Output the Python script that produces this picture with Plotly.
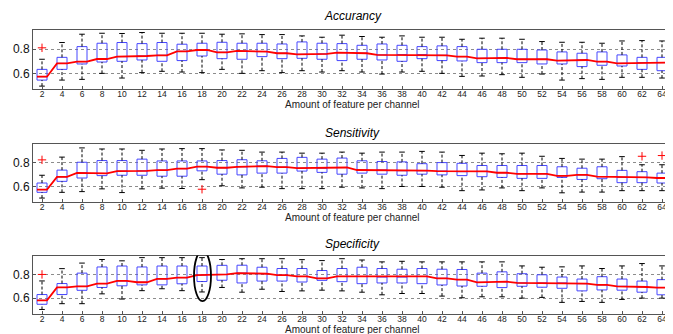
import plotly.graph_objects as go

feat = list(range(2, 65, 2))

# Accurancy
acc_hi = [0.717, 0.856, 0.925, 0.933, 0.931, 0.939, 0.933, 0.933, 0.933, 0.925, 0.928, 0.922, 0.922, 0.911, 0.900, 0.917,
          0.906, 0.900, 0.911, 0.900, 0.900, 0.883, 0.892, 0.892, 0.883, 0.864, 0.858, 0.858, 0.850, 0.869, 0.872, 0.869]
acc_q3 = [0.633, 0.733, 0.822, 0.850, 0.856, 0.847, 0.856, 0.842, 0.850, 0.858, 0.850, 0.850, 0.844, 0.861, 0.850, 0.847,
          0.833, 0.844, 0.833, 0.822, 0.828, 0.822, 0.800, 0.800, 0.800, 0.794, 0.778, 0.767, 0.778, 0.753, 0.733, 0.733]
acc_med = [0.572, 0.683, 0.697, 0.719, 0.739, 0.744, 0.750, 0.783, 0.794, 0.775, 0.786, 0.781, 0.767, 0.758, 0.761, 0.772,
           0.767, 0.753, 0.756, 0.756, 0.750, 0.739, 0.725, 0.728, 0.717, 0.717, 0.706, 0.711, 0.697, 0.683, 0.689, 0.689]
acc_q1 = [0.544, 0.633, 0.678, 0.694, 0.700, 0.711, 0.700, 0.706, 0.744, 0.722, 0.717, 0.739, 0.722, 0.725, 0.717, 0.706,
          0.717, 0.711, 0.700, 0.722, 0.706, 0.703, 0.689, 0.689, 0.689, 0.678, 0.678, 0.656, 0.667, 0.661, 0.633, 0.622]
acc_lo = [0.494, 0.544, 0.550, 0.600, 0.561, 0.606, 0.617, 0.611, 0.606, 0.633, 0.600, 0.622, 0.606, 0.622, 0.611, 0.622,
          0.611, 0.594, 0.611, 0.617, 0.600, 0.575, 0.578, 0.589, 0.567, 0.594, 0.544, 0.556, 0.550, 0.567, 0.567, 0.561]
acc_out_x = [2]
acc_out_y = [0.812]

# Sensitivity
sen_hi = [0.694, 0.846, 0.923, 0.914, 0.914, 0.903, 0.914, 0.917, 0.917, 0.906, 0.903, 0.888, 0.888, 0.879, 0.879, 0.888,
          0.879, 0.888, 0.888, 0.894, 0.888, 0.860, 0.879, 0.874, 0.879, 0.853, 0.835, 0.829, 0.829, 0.850, 0.782, 0.782]
sen_q3 = [0.629, 0.737, 0.803, 0.817, 0.817, 0.829, 0.814, 0.814, 0.814, 0.817, 0.824, 0.815, 0.835, 0.844, 0.829, 0.838,
          0.815, 0.809, 0.806, 0.791, 0.800, 0.794, 0.776, 0.776, 0.776, 0.776, 0.765, 0.753, 0.765, 0.735, 0.724, 0.712]
sen_med = [0.574, 0.680, 0.714, 0.709, 0.729, 0.731, 0.737, 0.749, 0.766, 0.757, 0.765, 0.771, 0.762, 0.753, 0.753, 0.759,
           0.738, 0.738, 0.732, 0.732, 0.729, 0.724, 0.726, 0.715, 0.706, 0.706, 0.688, 0.697, 0.682, 0.676, 0.676, 0.671]
sen_q1 = [0.551, 0.643, 0.671, 0.691, 0.694, 0.694, 0.686, 0.686, 0.731, 0.703, 0.697, 0.712, 0.712, 0.729, 0.718, 0.703,
          0.712, 0.703, 0.694, 0.703, 0.697, 0.691, 0.682, 0.676, 0.668, 0.668, 0.676, 0.659, 0.665, 0.632, 0.632, 0.629]
sen_lo = [0.503, 0.551, 0.557, 0.580, 0.549, 0.580, 0.586, 0.583, 0.657, 0.606, 0.588, 0.594, 0.582, 0.582, 0.582, 0.594,
          0.588, 0.582, 0.600, 0.600, 0.594, 0.565, 0.571, 0.588, 0.565, 0.588, 0.547, 0.553, 0.553, 0.565, 0.565, 0.565]
sen_out_x = [2, 18, 62, 64]
sen_out_y = [0.823, 0.577, 0.853, 0.859]

# Specificity
spe_hi = [0.745, 0.849, 0.896, 0.926, 0.915, 0.942, 0.942, 0.942, 0.942, 0.926, 0.933, 0.933, 0.933, 0.925, 0.917, 0.933,
          0.922, 0.906, 0.911, 0.906, 0.906, 0.906, 0.906, 0.906, 0.872, 0.861, 0.864, 0.872, 0.850, 0.872, 0.892, 0.872]
spe_q3 = [0.630, 0.723, 0.811, 0.863, 0.871, 0.863, 0.871, 0.871, 0.871, 0.877, 0.878, 0.861, 0.850, 0.850, 0.833, 0.850,
          0.861, 0.850, 0.844, 0.850, 0.844, 0.842, 0.811, 0.822, 0.806, 0.797, 0.778, 0.761, 0.781, 0.761, 0.744, 0.756]
spe_med = [0.581, 0.690, 0.699, 0.723, 0.745, 0.734, 0.762, 0.773, 0.795, 0.800, 0.811, 0.806, 0.794, 0.783, 0.767, 0.783,
           0.783, 0.778, 0.778, 0.783, 0.767, 0.756, 0.733, 0.739, 0.728, 0.728, 0.728, 0.722, 0.711, 0.700, 0.694, 0.689]
spe_q1 = [0.548, 0.630, 0.666, 0.690, 0.704, 0.712, 0.712, 0.721, 0.740, 0.751, 0.728, 0.744, 0.744, 0.736, 0.750, 0.739,
          0.722, 0.728, 0.728, 0.722, 0.711, 0.702, 0.700, 0.689, 0.700, 0.692, 0.683, 0.661, 0.669, 0.667, 0.650, 0.628]
spe_lo = [0.504, 0.553, 0.553, 0.636, 0.592, 0.663, 0.679, 0.663, 0.652, 0.690, 0.650, 0.675, 0.656, 0.661, 0.667, 0.661,
          0.650, 0.628, 0.639, 0.639, 0.617, 0.603, 0.611, 0.611, 0.600, 0.606, 0.564, 0.572, 0.564, 0.589, 0.600, 0.600]
spe_out_x = [2]
spe_out_y = [0.800]

titles = ["Accurancy", "Sensitivity", "Specificity"]
xlabel = "Amount of feature per channel"
ytick_vals = [0.6, 0.8]
ytick_text = ["0.6", "0.8"]

panels = [
    (acc_lo, acc_q1, acc_med, acc_q3, acc_hi, acc_out_x, acc_out_y),
    (sen_lo, sen_q1, sen_med, sen_q3, sen_hi, sen_out_x, sen_out_y),
    (spe_lo, spe_q1, spe_med, spe_q3, spe_hi, spe_out_x, spe_out_y),
]

# The page body keeps an 8px default margin, so the figure is drawn 8px in.
OFF = 8
W, H = 673 - OFF, 334 - OFF
PL, PR = 33, 672          # plot left/right in window pixels
ML, MR = PL - OFF, W - (PR - OFF)
# pixel extents (top, bottom) of each panel, in window pixels
pix = [(30.0, 89.0), (143.5, 202.0), (255.5, 313.5)]
title_pix = [16.5, 132.5, 243.5]
xtitle_pix = [104.0, 217.0, 329.5]
center_x = ((PL + PR) / 2 - PL) / (PR - PL)

BOX_HALF = 0.5
blue = "rgb(70,70,255)"

fig = go.Figure()
for i, (lo, q1, med, q3, hi, ox, oy) in enumerate(panels):
    xa = "x" if i == 0 else f"x{i+1}"
    ya = "y" if i == 0 else f"y{i+1}"
    # whiskers
    wx, wy = [], []
    for x, l, a, b, h in zip(feat, lo, q1, q3, hi):
        wx += [x, x, None, x, x, None]
        wy += [l, a, None, b, h, None]
    fig.add_trace(go.Scatter(x=wx, y=wy, mode="lines", xaxis=xa, yaxis=ya,
                             line=dict(color="black", width=1, dash="3px,2px"),
                             hoverinfo="skip", showlegend=False))
    # caps
    fig.add_trace(go.Scatter(x=feat + feat, y=lo + hi, mode="markers", xaxis=xa, yaxis=ya,
                             marker=dict(symbol="line-ew", size=4, line=dict(color="black", width=1)),
                             hoverinfo="skip", showlegend=False))
    # boxes
    fig.add_trace(go.Box(x=feat, q1=q1, median=med, q3=q3, lowerfence=q1, upperfence=q3,
                         width=2 * BOX_HALF, xaxis=xa, yaxis=ya, boxpoints=False,
                         line=dict(color=blue, width=1), fillcolor="rgba(0,0,0,0)",
                         whiskerwidth=0, showlegend=False))
    # red median line
    rx, ry = [], []
    for x, m in zip(feat, med):
        rx += [x - BOX_HALF, x + BOX_HALF]
        ry += [m, m]
    fig.add_trace(go.Scatter(x=rx, y=ry, mode="lines", xaxis=xa, yaxis=ya,
                             line=dict(color="red", width=1.8), hoverinfo="skip", showlegend=False))
    # outliers
    fig.add_trace(go.Scatter(x=ox, y=oy, mode="markers", xaxis=xa, yaxis=ya,
                             marker=dict(symbol="cross-thin", size=6, line=dict(color="red", width=1)),
                             hoverinfo="skip", showlegend=False))

    top, bot = pix[i]
    dom = [1 - (bot - OFF) / H, 1 - (top - OFF) / H]
    axx = dict(domain=[0, 1], range=[1.1, 65], tickmode="array", tickvals=feat,
               ticktext=[str(v) for v in feat], ticks="inside", ticklen=3, tickcolor="#555",
               ticklabelstandoff=-3,
               showgrid=False, zeroline=False, showline=True, linecolor="#555", linewidth=1,
               mirror=True, tickfont=dict(family="Liberation Sans, Arial", size=8.5, color="#222"),
               anchor=ya, automargin=False)
    axy = dict(domain=dom, range=[0.47, 0.96], tickmode="array", tickvals=ytick_vals,
               ticktext=ytick_text, ticks="inside", ticklen=3, tickcolor="#555",
               showgrid=True, gridcolor="rgb(140,140,140)", griddash="dot", gridwidth=1,
               zeroline=False, showline=True, linecolor="#555", linewidth=1, mirror=True,
               tickfont=dict(family="Liberation Sans, Arial", size=12, color="#111"),
               anchor=xa, automargin=False)
    fig.layout["xaxis" if i == 0 else f"xaxis{i+1}"] = axx
    fig.layout["yaxis" if i == 0 else f"yaxis{i+1}"] = axy

    fig.add_annotation(text=f"<i>{titles[i]}</i>", xref="paper", yref="paper",
                       x=center_x, y=1 - (title_pix[i] - OFF) / H, showarrow=False,
                       xanchor="center", yanchor="middle",
                       font=dict(family="Liberation Sans, Arial", size=12, color="black"))
    fig.add_annotation(text=xlabel, xref="paper", yref="paper",
                       x=center_x, y=1 - (xtitle_pix[i] - OFF) / H, showarrow=False,
                       xanchor="center", yanchor="middle",
                       font=dict(family="Liberation Sans, Arial", size=10, color="#222"))

# highlight ellipse around 18 in the specificity panel
fig.add_shape(type="circle", xref="x3", yref="y3", x0=17.2, x1=18.9, y0=0.575, y1=1.0,
              line=dict(color="black", width=1.8))

fig.update_layout(width=W, height=H, margin=dict(l=ML, r=MR, t=0, b=0),
                  paper_bgcolor="white", plot_bgcolor="white")
fig.write_html("out.html")
